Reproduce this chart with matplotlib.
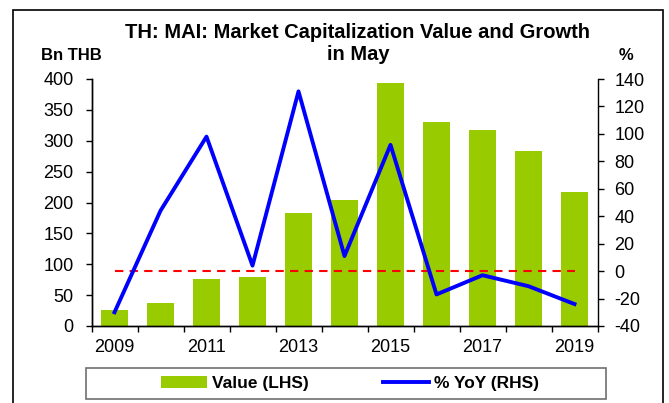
import matplotlib
matplotlib.use("Agg")
import matplotlib.pyplot as plt
from matplotlib.patches import Rectangle
import numpy as np

plt.rcParams['font.family'] = ['Liberation Sans', 'DejaVu Sans']
plt.rcParams['axes.unicode_minus'] = False

# data
years = [2009, 2010, 2011, 2012, 2013, 2014, 2015, 2016, 2017, 2018, 2019]
value_bn = [26, 38, 76, 79, 183, 204, 393, 330, 318, 284, 217]
yoy_pct = [-30, 44, 98, 4, 131, 11, 92, -17, -3, -11, -24]
zero_line = [0] * len(years)

W, H = 669, 403
fig = plt.figure(figsize=(W / 100, H / 100), dpi=100)
fig.patch.set_facecolor('white')

# axes box in pixel terms
left, right, top, bottom = 91.5, 597.5, 79, 326
ax = fig.add_axes([left / W, 1 - bottom / H, (right - left) / W, (bottom - top) / H])
ax2 = ax.twinx()

x = np.arange(len(years))
bars = ax.bar(x, value_bn, width=0.58, color='#99CC00', edgecolor='none', label='Value (LHS)')

ax2.plot(x, zero_line, color='#FF0000', lw=1.5, dashes=(4, 3))
line, = ax2.plot(x, yoy_pct, color='#0000FF', lw=2.8, label='% YoY (RHS)')

ax.set_xlim(-0.5, len(years) - 0.5)
ax.set_ylim(0, 400)
ax.set_yticks(range(0, 401, 50))
ax2.set_ylim(-40, 140)
ax2.set_yticks(range(-40, 141, 20))

# tick marks on category boundaries, labels every other year
ax.set_xticks(np.arange(-0.5, len(years), 1.0))
ax.set_xticklabels([])
ax.set_xticks(x[::2], minor=True)
ax.set_xticklabels([str(y) for y in years[::2]], minor=True)
ax.tick_params(axis='x', which='major', direction='out', length=4, width=1)
ax.tick_params(axis='x', which='minor', length=0, pad=9, labelsize=13)
ax.tick_params(axis='y', direction='out', length=4, width=1, pad=9, labelsize=13)
ax2.tick_params(axis='y', direction='out', length=4, width=1, pad=8, labelsize=13)

for a in (ax, ax2):
    a.spines['top'].set_visible(False)
    for s in a.spines.values():
        s.set_linewidth(1)
ax.spines['right'].set_visible(False)

# title, two lines
fig.text(358 / W, 1 - 38.5 / H, 'TH: MAI: Market Capitalization Value and Growth',
         ha='center', va='baseline', fontsize=14.5, fontweight='bold')
fig.text(358 / W, 1 - 59.5 / H, 'in May',
         ha='center', va='baseline', fontsize=14.5, fontweight='bold')
fig.text(71 / W, 1 - 60.5 / H, 'Bn THB', ha='center', va='baseline', fontsize=12, fontweight='bold')
fig.text(626 / W, 1 - 60 / H, '%', ha='center', va='baseline', fontsize=12, fontweight='bold')

# legend and its box
fig.legend([bars, line], ['Value (LHS)', '% YoY (RHS)'], loc='center', ncol=2,
           bbox_to_anchor=(350 / W, 1 - 383.5 / H), frameon=False,
           prop={'weight': 'bold', 'size': 12.5}, handlelength=2.65,
           handletextpad=0.3, columnspacing=4.3)
fig.patches.append(Rectangle((86 / W, 1 - 399 / H), 520 / W, 31 / H, transform=fig.transFigure,
                             fill=False, edgecolor='#707070', lw=1.2))

# outer frame of the chart
fig.patches.append(Rectangle((13 / W, -0.05), 650 / W, 1 - 10 / H + 0.05, transform=fig.transFigure,
                             fill=False, edgecolor='black', lw=1.2))

fig.savefig('out.png', dpi=100)
